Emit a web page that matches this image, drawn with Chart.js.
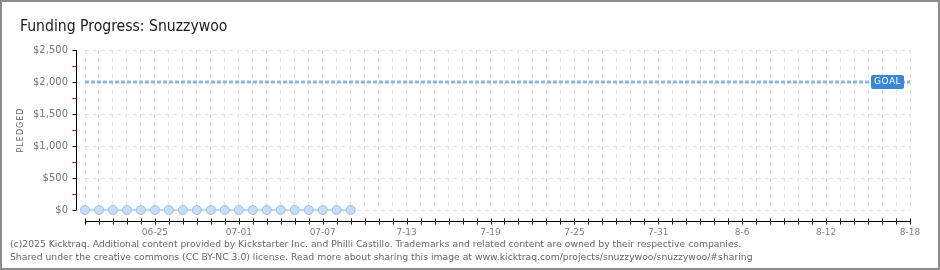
<!DOCTYPE html>
<html>
<head>
<meta charset="utf-8">
<script src="https://cdn.jsdelivr.net/npm/chart.js@4/dist/chart.umd.min.js"></script>
<style>
  html, body { margin: 0; padding: 0; background: #fff; }
  #wrap { width: 940px; height: 270px; position: relative; }
</style>
</head>
<body>
<div id="wrap"><canvas id="fundingChart" width="940" height="270"></canvas></div>
<script>
// Days on the x axis (06-20 .. 08-18)
const dates = [
  '06-20','06-21','06-22','06-23','06-24','06-25','06-26','06-27','06-28','06-29',
  '06-30','07-01','07-02','07-03','07-04','07-05','07-06','07-07','07-08','07-09',
  '07-10','07-11','07-12','07-13','07-14','07-15','07-16','07-17','07-18','07-19',
  '07-20','07-21','07-22','07-23','07-24','07-25','07-26','07-27','07-28','07-29',
  '07-30','07-31','08-01','08-02','08-03','08-04','08-05','08-06','08-07','08-08',
  '08-09','08-10','08-11','08-12','08-13','08-14','08-15','08-16','08-17','08-18'
];
// Pledged amount, one value per tracked day
const pledged = [0,0,0,0,0,0,0,0,0,0,0,0,0,0,0,0,0,0,0,0];
const goal = 2000;
// Labelled ticks as they appear on the chart
const tickDates = ['06-25','07-01','07-07','07-13','07-19','07-25','07-31','08-06','08-12','08-18'];
const tickLabels = ['06-25','07-01','07-07','7-13','7-19','7-25','7-31','8-6','8-12','8-18'];
const yTicks = [0, 500, 1000, 1500, 2000, 2500];

const title = 'Funding Progress: Snuzzywoo';
const footer1 = '(c)2025 Kicktraq. Additional content provided by Kickstarter Inc. and Philli Castillo. Trademarks and related content are owned by their respective companies.';
const footer2 = 'Shared under the creative commons (CC BY-NC 3.0) license. Read more about sharing this image at www.kicktraq.com/projects/snuzzywoo/snuzzywoo/#sharing';

function money(v) {
  return '$' + v.toLocaleString('en-US');
}

// extra drawing: frame, title, axes, goal tag, footer
const decorPlugin = {
  id: 'decor',
  beforeDraw(chart) {
    const c = chart.ctx;
    c.save();
    c.fillStyle = '#fff';
    c.fillRect(0, 0, chart.width, chart.height);
    c.restore();
  },
  afterDraw(chart) {
    const c = chart.ctx;
    const area = chart.chartArea;
    const ys = chart.scales.y;
    const xs = chart.scales.x;
    c.save();

    // frame
    c.strokeStyle = '#8c8c8c';
    c.lineWidth = 2;
    c.strokeRect(1, 1, chart.width - 2, chart.height - 2);

    // title
    c.fillStyle = '#1a1a1a';
    c.font = '15.6px "DejaVu Sans Condensed", "DejaVu Sans", sans-serif';
    c.textBaseline = 'alphabetic';
    c.textAlign = 'left';
    c.fillText(title, 20, 31);

    // y axis line + ticks
    const axX = 76.5;
    c.strokeStyle = '#000';
    c.lineWidth = 1;
    c.beginPath();
    c.moveTo(axX, ys.getPixelForValue(2500));
    c.lineTo(axX, ys.getPixelForValue(0));
    c.stroke();
    for (let v = 0; v <= 2500; v += 250) {
      const py = Math.round(ys.getPixelForValue(v)) + 0.5;
      c.strokeStyle = v % 500 === 0 ? '#000' : '#e00000';
      c.beginPath();
      c.moveTo(axX - 4, py);
      c.lineTo(axX, py);
      c.stroke();
    }

    // x axis line + day ticks
    const axY = 221.5;
    c.strokeStyle = '#000';
    c.beginPath();
    c.moveTo(xs.getPixelForValue(0), axY);
    c.lineTo(xs.getPixelForValue(dates.length - 1), axY);
    c.stroke();
    for (let i = 0; i < dates.length; i++) {
      const px = Math.round(xs.getPixelForValue(i)) + 0.5;
      c.beginPath();
      c.moveTo(px, axY - 3);
      c.lineTo(px, axY + 3);
      c.stroke();
    }

    // axis title
    c.save();
    c.translate(21, 130);
    c.rotate(-Math.PI / 2);
    c.fillStyle = '#666';
    c.font = '8px "DejaVu Sans", sans-serif';
    c.textAlign = 'center';
    c.textBaseline = 'middle';
    c.letterSpacing = '1px';
    c.fillText('PLEDGED', 0, 0);
    c.restore();

    // goal tag
    const gy = ys.getPixelForValue(goal);
    const tx = area.right - 39, tw = 33, th = 14;
    c.fillStyle = '#3b87d6';
    c.beginPath();
    c.roundRect(tx, gy - 7, tw, th, 2);
    c.fill();
    c.fillStyle = '#fff';
    c.font = '9px "DejaVu Sans", sans-serif';
    c.textAlign = 'left';
    c.textBaseline = 'middle';
    c.letterSpacing = '0.5px';
    c.fillText('GOAL', tx + 3, gy);
    c.letterSpacing = '0px';

    // footer
    c.fillStyle = '#666';
    c.font = '9.25px "DejaVu Sans", sans-serif';
    c.textBaseline = 'alphabetic';
    c.fillText(footer1, 10, 247);
    c.fillText(footer2, 10, 260);

    c.restore();
  }
};

const ctx = document.getElementById('fundingChart');

new Chart(ctx, {
  type: 'line',
  data: {
    labels: dates,
    datasets: [
      {
        label: 'Pledged',
        data: pledged,
        borderColor: '#a9c9ee',
        borderWidth: 1.5,
        backgroundColor: '#c6ddf6',
        pointBorderColor: '#9fc0e8',
        pointBorderWidth: 1,
        pointRadius: 4.5,
        clip: false,
        order: 1
      },
      {
        label: 'Goal',
        data: [{ x: dates[0], y: goal }, { x: dates[dates.length - 1], y: goal }],
        borderColor: '#93b4dd',
        borderWidth: 3,
        borderDash: [4, 2],
        pointRadius: 0,
        order: 2
      }
    ]
  },
  plugins: [decorPlugin],
  options: {
    responsive: false,
    animation: false,
    layout: { padding: { top: 50, right: 30, bottom: 0, left: 0 } },
    plugins: {
      legend: { display: false },
      tooltip: { enabled: false }
    },
    scales: {
      x: {
        type: 'category',
        offset: false,
        border: { display: false, dash: [4, 4] },
        grid: { color: '#e2e2e2', lineWidth: 1, drawTicks: false },
        ticks: {
          autoSkip: false,
          maxRotation: 0,
          padding: 17,
          color: '#808080',
          font: { family: '"DejaVu Sans", sans-serif', size: 9 },
          callback: function (val, i) {
            const k = tickDates.indexOf(dates[i]);
            return k >= 0 ? tickLabels[k] : '';
          }
        },
        afterFit: s => { s.height = 60; }
      },
      y: {
        min: 0,
        max: 2500,
        border: { display: false, dash: [4, 4] },
        grid: { color: '#e2e2e2', lineWidth: 1, drawTicks: false },
        afterBuildTicks: s => { s.ticks = yTicks.map(v => ({ value: v })); },
        ticks: {
          padding: 17,
          color: '#777',
          font: { family: '"DejaVu Sans", sans-serif', size: 10 },
          callback: v => money(v)
        },
        afterFit: s => { s.width = 85; }
      }
    }
  }
});
</script>
</body>
</html>
